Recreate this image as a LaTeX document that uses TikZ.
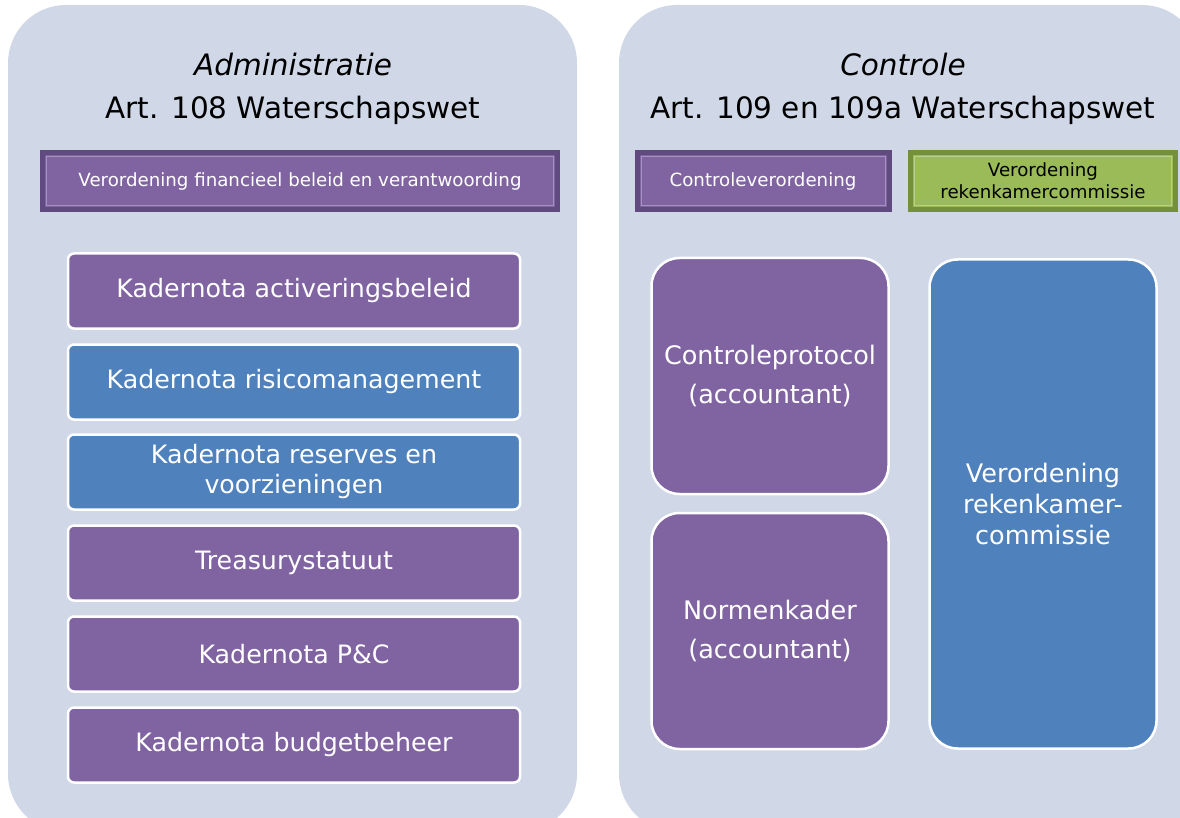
\documentclass[tikz,border=0pt]{standalone}
\usepackage{fontspec}
\setmainfont{DejaVu Sans}
\usetikzlibrary{calc}
\definecolor{panel1}{RGB}{208,216,232}
\definecolor{purple1}{RGB}{128,100,162}
\definecolor{purple2}{RGB}{96,74,128}
\definecolor{blue1}{RGB}{79,129,189}
\definecolor{green1}{RGB}{155,187,89}
\definecolor{green2}{RGB}{116,144,58}

\begin{document}
\begin{tikzpicture}[x=1pt, y=-1pt,
  kader/.style={rounded corners=6pt, draw=white, line width=2.5pt, text=white,
    minimum width=452pt, minimum height=75pt, inner sep=0pt, align=center,
    font=\fontsize{25.3}{30}\selectfont},
  blok/.style={rounded corners=28pt, draw=white, line width=2.5pt, text=white,
    inner sep=0pt, align=center, font=\fontsize{25.5}{31}\selectfont},
  knop/.style={draw=purple2, line width=5pt, fill=purple1, text=white,
    minimum height=57pt, inner sep=0pt, align=center,
    font=\fontsize{18.2}{22}\selectfont,
    path picture={\draw[white, opacity=.3, line width=1pt]
      ($(path picture bounding box.south west)+(4pt,4pt)$) rectangle
      ($(path picture bounding box.north east)+(-4pt,-4pt)$);}},
  titel/.style={font=\fontsize{29.5}{35}\selectfont}]
 \useasboundingbox (0,0) rectangle (1180,818);
 \begin{scope}
  \clip (0,0) rectangle (1180,818);
  \fill[panel1, rounded corners=58pt] (8,5) rectangle (577,832);
  \fill[panel1, rounded corners=58pt] (619,5) rectangle (1200,832);
 \end{scope}

 % administratie
  \node[titel] (t1) at (293,65) {\itshape Administratie};
  \node[titel] (t2) at (293,110) {Art. 108 Waterschapswet};
  \node[knop, minimum width=515pt] (v1) at (300,181) {Verordening financieel beleid en verantwoording};

  \node[kader, fill=purple1] (k1) at (294,291) {Kadernota activeringsbeleid};
  \node[kader, fill=blue1] (k2) at (294,382) {Kadernota risicomanagement};
  \node[kader, fill=blue1] (k3) at (294,472) {Kadernota reserves en\\voorzieningen};
  \node[kader, fill=purple1] (k4) at (294,563) {Treasurystatuut};
  \node[kader, fill=purple1] (k5) at (294,654) {Kadernota P\&C};
  \node[kader, fill=purple1] (k6) at (294,745) {Kadernota budgetbeheer};

 % controle
  \node[titel] (t3) at (903,65) {\itshape Controle};
  \node[titel] (t4) at (903,110) {Art. 109 en 109a Waterschapswet};
  \node[knop, minimum width=252pt] (v2) at (763,181) {Controleverordening};
  \node[knop, minimum width=265pt, fill=green1, draw=green2, text=black] (v3) at (1043,181) {Verordening\\rekenkamercommissie};

  \node[blok, fill=purple1, minimum width=237pt, minimum height=236pt] (c1) at (770,376) {Controleprotocol\\[8pt](accountant)};
  \node[blok, fill=purple1, minimum width=237pt, minimum height=236pt] (c2) at (770,631) {Normenkader\\[8pt](accountant)};
  \node[blok, fill=blue1, minimum width=227pt, minimum height=489pt] (c3) at (1043,504) {Verordening\\rekenkamer-\\commissie};
\end{tikzpicture}
\end{document}
